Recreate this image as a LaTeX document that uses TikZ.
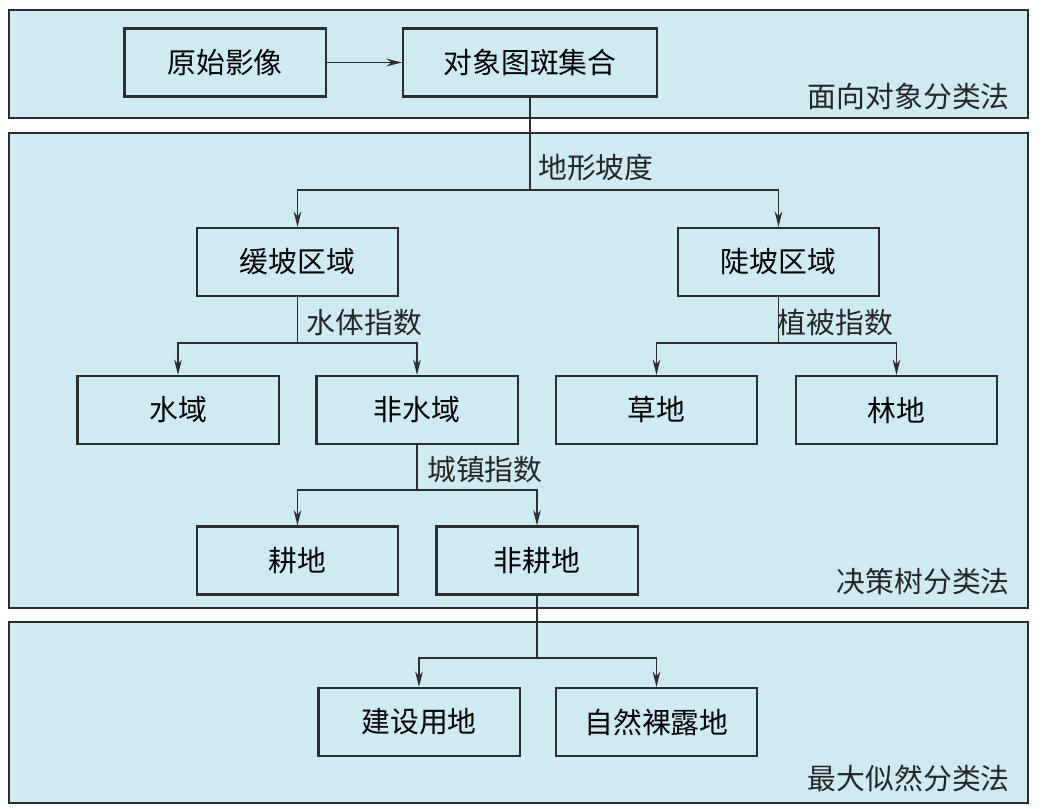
\documentclass[tikz,border=0pt]{standalone}
\usepackage{fontspec}
\setmainfont{Noto Sans CJK SC}
\usetikzlibrary{positioning,calc,arrows.meta}
\definecolor{bandfill}{RGB}{206,234,243}
\definecolor{linegray}{RGB}{45,45,45}
\tikzset{
  band/.style={draw=linegray, line width=1.1pt, fill=bandfill},
  box/.style={draw=linegray, line width=1.6pt, fill=bandfill, minimum width=5.03cm, minimum height=1.7cm, inner sep=0pt},
  conn/.style={draw=linegray, line width=1pt},
  arr/.style={conn, -{Stealth[length=11pt,width=5.5pt]}},
  tag/.style={inner sep=0pt, text=black!85},
}

\begin{document}
\begin{tikzpicture}[x=0.025cm, y=-0.025cm, font=\fontsize{20.5}{24}\selectfont]
  \useasboundingbox (0,0) rectangle (1044,808);

  % three method bands
  \draw[band] (9,10) rectangle (1028,118);
  \draw[band] (9,133) rectangle (1028,608);
  \draw[band] (9,622) rectangle (1028,803);
  \node[tag, anchor=east] (oo)  at (1010,97)  {面向对象分类法};
  \node[tag, anchor=east] (dt)  at (1010,582) {决策树分类法};
  \node[tag, anchor=east] (ml)  at (1010,778) {最大似然分类法};

  % boxes
  \node[box] (yuanshi) at (225,62.5) {原始影像};
  \node[box, minimum width=6.35cm] (jihe) at (530,62.5) {对象图斑集合};
  \node[box] (huanpo)  at (297.5,262) {缓坡区域};
  \node[box] (doupo)   at (778.5,262) {陡坡区域};
  \node[box] (shuiyu)  at (178,410)   {水域};
  \node[box] (feishui) at (417,410)   {非水域};
  \node[box] (caodi)   at (656.5,410) {草地};
  \node[box] (lindi)   at (896.5,410) {林地};
  \node[box] (gengdi)  at (297.5,560.5) {耕地};
  \node[box] (feigeng) at (537,560.5) {非耕地};
  \node[box] (jianshe) at (419,722)   {建设用地};
  \node[box] (ziran)   at (656.5,722) {自然裸露地};

  % split points
  \coordinate (s1) at (jihe.south |- 0,190);
  \coordinate (s2) at (huanpo.south |- 0,343);
  \coordinate (s3) at (doupo.south |- 0,343);
  \coordinate (s4) at (feishui.south |- 0,490);
  \coordinate (s5) at (feigeng.south |- 0,658);

  % connectors
  \draw[arr] (yuanshi) -- (jihe);

  \draw[conn] (jihe.south) -- (s1);
  \draw[arr] (s1) -| (huanpo.north);
  \draw[arr] (s1) -| (doupo.north);
  \node[tag, anchor=west] (podu) at ($(s1)+(8,-22)$) {地形坡度};

  \draw[conn] (huanpo.south) -- (s2);
  \draw[arr] (s2) -| (shuiyu.north);
  \draw[arr] (s2) -| (feishui.north);
  \node[tag, anchor=west] (shuiti) at ($(s2)+(9,-20)$) {水体指数};

  \draw[conn] (doupo.south) -- (s3);
  \draw[arr] (s3) -| (caodi.north);
  \draw[arr] (s3) -| (lindi.north);
  \node[tag, anchor=west] (zhibei) at ($(s3)+(-1,-20)$) {植被指数};

  \draw[conn] (feishui.south) -- (s4);
  \draw[arr] (s4) -| (gengdi.north);
  \draw[arr] (s4) -| (feigeng.north);
  \node[tag, anchor=west] (chengzhen) at ($(s4)+(10,-20)$) {城镇指数};

  \draw[conn] (feigeng.south) -- (s5);
  \draw[arr] (s5) -| (jianshe.north);
  \draw[arr] (s5) -| (ziran.north);
\end{tikzpicture}
\end{document}
